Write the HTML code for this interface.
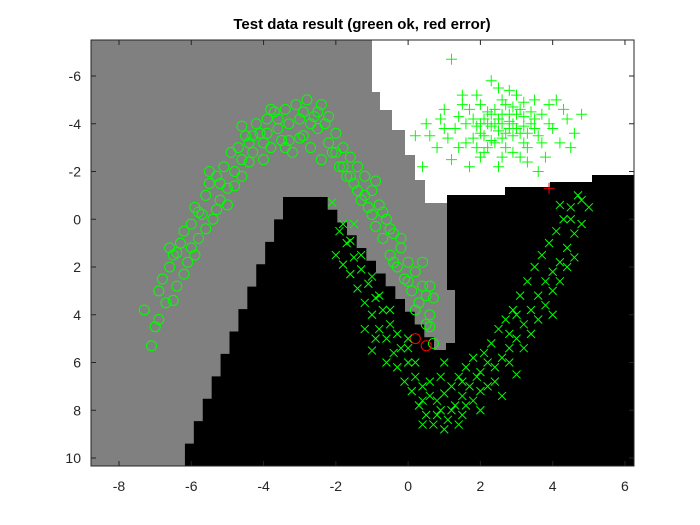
<!DOCTYPE html>
<html><head><meta charset="utf-8"><style>
body{margin:0;background:#fff;}
svg{display:block;font-family:"Liberation Sans",sans-serif;}
</style></head><body>
<svg id="chart" width="700" height="525">
<text x="362" y="29" text-anchor="middle" font-size="15" font-weight="bold">Test data result (green ok, red error)</text>
<g id="plot"></g>
<g id="axes"></g>
</svg>
<script>
const xTicks=[-8,-6,-4,-2,0,2,4,6];
const yTicks=[-6,-4,-2,0,2,4,6,8,10];
const class1=[[-7.3,3.8],[-7.1,5.3],[-7.0,4.5],[-6.9,3.0],[-6.8,2.5],[-6.7,3.5],[-6.6,2.0],[-6.5,1.5],[-6.4,2.8],[-6.3,1.0],[-6.2,0.5],[-6.1,1.8],[-6.0,1.2],[-6.0,0.2],[-5.9,-0.5],[-5.8,0.8],[-5.7,-0.2],[-5.6,-1.0],[-5.5,-1.5],[-5.4,0.0],[-5.3,-1.8],[-5.2,-0.8],[-5.1,-2.2],[-5.0,-1.3],[-4.9,-2.8],[-4.8,-2.0],[-4.7,-3.0],[-4.6,-2.5],[-4.5,-3.5],[-4.4,-3.2],[-4.3,-2.8],[-4.2,-4.0],[-4.1,-3.6],[-4.0,-2.5],[-3.9,-4.2],[-3.8,-3.0],[-3.7,-4.5],[-3.6,-3.8],[-3.5,-3.3],[-3.4,-4.6],[-3.3,-4.0],[-3.2,-2.8],[-3.1,-4.8],[-3.0,-4.2],[-2.9,-3.5],[-2.8,-5.0],[-2.7,-3.0],[-2.6,-4.3],[-2.5,-3.8],[-2.4,-2.5],[-2.3,-4.0],[-2.2,-3.2],[-2.1,-2.8],[-2.0,-3.6],[-1.9,-2.2],[-1.8,-3.0],[-1.7,-1.8],[-1.6,-2.6],[-1.5,-1.5],[-1.4,-2.2],[-1.3,-0.8],[-1.2,-1.8],[-1.1,-0.5],[-1.0,-1.2],[-0.9,0.3],[-0.8,-0.6],[-0.7,0.8],[-0.6,0.0],[-0.5,1.5],[-0.4,0.6],[-0.3,2.0],[-0.2,1.2],[-0.1,2.5],[0.0,1.8],[0.1,3.0],[0.2,2.2],[0.3,3.5],[0.4,2.8],[0.5,3.2],[0.6,4.0],[0.6,4.5],[0.7,3.3],[0.7,5.2],[-4.6,-3.9],[-3.3,-3.3],[-2.4,-4.8],[-5.8,-0.3],[-6.4,1.4],
[-6.9,4.2],[-6.5,3.4],[-6.2,2.3],[-6.6,1.2],[-5.9,1.5],[-5.6,0.4],[-5.3,-0.4],[-5.5,-2.0],[-5.0,-0.6],[-4.8,-1.4],[-4.6,-1.8],[-4.3,-3.5],[-4.0,-3.2],[-3.9,-3.6],[-3.6,-4.2],[-3.4,-3.0],[-3.0,-3.4],[-2.9,-4.5],[-2.7,-4.0],[-2.5,-4.5],[-2.2,-4.3],[-2.0,-2.8],[-1.8,-2.2],[-1.6,-1.8],[-1.4,-1.2],[-1.2,-1.0],[-1.0,-0.2],[-0.9,-1.6],[-0.7,-0.3],[-0.5,0.4],[-0.4,1.8],[-0.2,0.8],[0.0,2.6],[0.2,3.8],[0.4,1.8],[0.5,4.4],[0.6,2.8],[-3.8,-4.6],[-4.4,-2.4],[-5.2,-1.5]];
const class1Err=[[0.2,5.0],[0.5,5.3]];
const class2=[[-2.1,-0.7],[-1.9,0.5],[-2.0,1.5],[-1.8,1.9],[-1.7,1.0],[-1.6,2.3],[-1.5,1.6],[-1.4,2.9],[-1.3,2.1],[-1.2,3.5],[-1.1,2.7],[-1.0,4.0],[-0.9,3.3],[-0.8,4.6],[-0.7,3.8],[-0.6,5.0],[-0.5,4.4],[-0.4,5.6],[-0.3,6.2],[-0.2,5.4],[-0.1,6.8],[0.0,6.0],[0.1,7.2],[0.2,6.6],[0.3,7.8],[0.4,7.0],[0.5,8.2],[0.6,7.4],[0.7,8.6],[0.8,7.6],[0.9,8.0],[1.0,7.3],[1.1,8.4],[1.2,7.0],[1.3,7.8],[1.4,6.6],[1.5,7.4],[1.6,6.2],[1.7,7.0],[1.8,5.8],[1.9,6.6],[2.0,6.4],[2.1,5.6],[2.2,7.0],[2.3,5.2],[2.4,6.2],[2.5,4.6],[2.6,5.8],[2.7,4.2],[2.8,5.4],[2.9,3.8],[3.0,5.0],[3.1,3.2],[3.2,4.4],[3.3,2.6],[3.4,3.8],[3.5,2.0],[3.6,3.2],[3.7,1.5],[3.8,2.6],[3.9,1.0],[4.0,2.2],[4.1,0.5],[4.2,1.8],[4.3,0.0],[4.4,1.2],[4.5,-0.5],[4.6,0.6],[4.7,-1.0],[4.8,0.2],[5.0,-0.5],[-1.0,5.5],[0.0,5.4],[1.0,6.0],[2.0,8.0],[3.0,6.5],[4.0,4.0],[-1.5,0.2],[1.5,8.2],[0.6,6.8],
[-1.8,0.2],[-1.6,0.9],[-1.3,1.5],[-1.0,2.4],[-0.8,3.2],[-0.5,3.8],[-0.3,4.8],[0.0,5.0],[-0.6,6.0],[0.2,6.0],[0.4,7.6],[0.8,8.2],[1.2,8.0],[1.6,7.8],[2.0,7.2],[2.4,6.8],[2.8,6.0],[3.2,5.4],[3.4,4.8],[3.6,4.2],[3.8,3.6],[4.0,3.0],[4.2,2.6],[4.4,2.0],[4.6,1.6],[4.8,-0.8],[4.5,0.0],[4.2,-0.6],[1.0,8.8],[0.4,8.6],[1.4,8.6],[2.6,7.4],[3.0,4.0],[2.2,6.0],[1.8,7.6],[0.9,6.6],[-1.2,4.6],[-0.9,5.0],[1.5,6.8],[2.8,4.8]];
const class3=[[1.2,-6.7],[0.2,-3.5],[0.4,-2.2],[0.5,-4.0],[0.8,-3.0],[1.0,-4.6],[1.2,-2.5],[1.3,-3.8],[1.5,-4.8],[1.6,-3.2],[1.7,-2.2],[1.8,-4.2],[1.9,-5.2],[2.0,-3.6],[2.1,-2.8],[2.2,-4.5],[2.3,-5.8],[2.3,-3.9],[2.4,-3.2],[2.5,-4.2],[2.5,-2.2],[2.6,-5.0],[2.7,-3.6],[2.8,-4.4],[2.9,-2.8],[3.0,-5.2],[3.0,-3.8],[3.1,-4.6],[3.2,-3.2],[3.3,-2.4],[3.4,-4.0],[3.5,-5.0],[3.6,-3.5],[3.7,-4.4],[3.8,-2.6],[4.0,-3.8],[4.1,-5.0],[4.2,-3.2],[4.4,-4.2],[4.6,-3.6],[4.8,-4.4],[2.0,-4.0],[2.2,-3.0],[2.7,-4.8],[2.4,-4.6],[1.8,-3.4],[3.3,-3.6],[2.9,-4.0],[2.6,-3.4],[3.9,-4.8],[1.4,-4.3],[3.6,-2.0],[2.1,-4.2],[2.8,-3.8],[3.2,-4.3],
[0.6,-3.5],[0.9,-4.2],[1.1,-3.4],[1.4,-3.0],[1.6,-4.0],[1.7,-4.6],[1.9,-3.0],[2.0,-4.8],[2.1,-3.5],[2.2,-4.0],[2.3,-3.3],[2.4,-4.0],[2.5,-3.7],[2.6,-4.4],[2.7,-3.0],[2.8,-4.1],[2.9,-3.5],[3.0,-4.4],[3.1,-3.6],[3.2,-4.9],[3.3,-3.0],[3.4,-4.5],[3.5,-3.8],[3.7,-3.2],[3.9,-4.0],[4.3,-4.6],[4.5,-3.0],[2.0,-2.6],[2.6,-2.6],[3.1,-2.6],[1.5,-5.2],[2.5,-5.5],[2.8,-5.4],[1.0,-3.8],[3.5,-4.2],[2.3,-4.4],[2.6,-4.0],[2.9,-4.7],[1.9,-3.9],[3.2,-3.9]];
const class3Err=[[3.9,-1.3]];

const L=91,R=634,T=40,B=466;
const sx=v=>119+(v+8)*36.14;
const sy=v=>76+(v+6)*23.875;
const NS="http://www.w3.org/2000/svg";
const plot=document.getElementById('plot'), axes=document.getElementById('axes');
function mk(tag,attrs,parent){const e=document.createElementNS(NS,tag);for(const k in attrs)e.setAttribute(k,attrs[k]);parent.appendChild(e);return e;}

let bg=mk('rect',{x:L,y:T,width:R-L,height:B-T,fill:'#808080'},plot);


let wp=mk('polygon',{fill:'#fff',points:'372,40 634,40 634,175 592,175 592,182 550,182 550,187 505,187 505,195 447,195 447,203 425,203 425,180 415,180 415,155 405,155 405,130 392,130 392,110 380,110 380,92 372,92'},plot);


let pts=[];
const lx0=176,ly0=466,lx1=283,ly1=197;let n=12;
for(let i=0;i<=n;i++){const x=lx0+(lx1-lx0)*i/n,y=ly0+(ly1-ly0)*i/n;pts.push([x,ly0+(ly1-ly0)*Math.max(0,i-1)/n]);pts.push([x,y]);}
pts.push([318,197]);
const rx0=318,ry0=197,rx1=434,ry1=350;n=12;
for(let i=1;i<=n;i++){const x=rx0+(rx1-rx0)*i/n,y=ry0+(ry1-ry0)*i/n;pts.push([x,ry0+(ry1-ry0)*(i-1)/n]);pts.push([x,y]);}
pts.push([446,350],[446,343],[455,343],[455,290],[447,290],[447,195],[505,195],[505,187],[550,187],[550,182],[592,182],[592,175],[634,175],[634,466]);
let bp=mk('polygon',{fill:'#000',points:pts.map(p=>p.join(',')).join(' ')},plot);



function circ(d,col){let e=mk('circle',{cx:sx(d[0]),cy:sy(d[1]),r:5,fill:'none',stroke:col,'stroke-width':1},plot);

}
function xm(d,col){const x=sx(d[0]),y=sy(d[1]),s=4;let e=mk('path',{d:`M${x-s},${y-s}L${x+s},${y+s}M${x-s},${y+s}L${x+s},${y-s}`,stroke:col,'stroke-width':1,fill:'none'},plot);

}
function pm(d,col){const x=sx(d[0]),y=sy(d[1]),s=5.5;let e=mk('path',{d:`M${x-s},${y}L${x+s},${y}M${x},${y-s}L${x},${y+s}`,stroke:col,'stroke-width':1,fill:'none'},plot);

}
class1.forEach(d=>circ(d,'#00ff00'));
class1Err.forEach(d=>circ(d,'#ff0000'));
class2.forEach(d=>xm(d,'#00ff00'));
class3.forEach(d=>pm(d,'#00ff00'));
class3Err.forEach(d=>pm(d,'#ff0000'));

let box=mk('rect',{x:L,y:T,width:R-L,height:B-T,fill:'none',stroke:'#262626','stroke-width':1},axes);


xTicks.forEach(v=>{const x=sx(v);
mk('path',{d:`M${x},${B}V${B-5}M${x},${T}V${T+5}`,stroke:'#262626'},axes);
let t=mk('text',{x:x,y:B+25,'text-anchor':'middle','font-size':14,fill:'#262626'},axes);t.textContent=v;

});
yTicks.forEach(v=>{const y=sy(v);
mk('path',{d:`M${L},${y}H${L+5}M${R},${y}H${R-5}`,stroke:'#262626'},axes);
let t=mk('text',{x:L-10,y:y+5,'text-anchor':'end','font-size':14,fill:'#262626'},axes);t.textContent=v;

});
</script>
</body></html>
